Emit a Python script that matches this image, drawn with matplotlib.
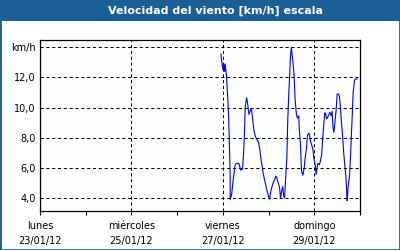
import matplotlib
matplotlib.use("Agg")
import matplotlib.pyplot as plt
from matplotlib.patches import Rectangle

# time in days since lunes 23/01/12 00:00, wind speed in km/h
days = [3.96, 3.97, 4.00, 4.02, 4.04, 4.05, 4.08, 4.10, 4.12, 4.14, 4.16, 4.16,
        4.19, 4.22, 4.24, 4.27, 4.30, 4.34, 4.36, 4.39, 4.43, 4.45, 4.47, 4.49,
        4.52, 4.54, 4.57, 4.59, 4.62, 4.64, 4.66, 4.68, 4.71, 4.74, 4.78, 4.81,
        4.83, 4.86, 4.88, 4.92, 4.96, 4.99, 5.02, 5.05, 5.08, 5.10, 5.13, 5.16,
        5.18, 5.21, 5.24, 5.26, 5.29, 5.31, 5.33, 5.35, 5.37, 5.40, 5.42, 5.44,
        5.46, 5.48, 5.50, 5.51, 5.53, 5.56, 5.58, 5.61, 5.63, 5.66, 5.67, 5.70,
        5.72, 5.75, 5.78, 5.80, 5.83, 5.85, 5.88, 5.90, 5.92, 5.95, 5.97, 5.99,
        6.02, 6.04, 6.06, 6.08, 6.11, 6.13, 6.16, 6.18, 6.21, 6.23, 6.25, 6.27,
        6.30, 6.32, 6.34, 6.37, 6.39, 6.41, 6.43, 6.45, 6.48, 6.50, 6.53, 6.55,
        6.57, 6.59, 6.62, 6.64, 6.67, 6.69, 6.71, 6.72, 6.74, 6.77, 6.79, 6.81,
        6.83, 6.85, 6.88, 6.90, 6.94]
speed = [13.55, 13.2, 12.55, 12.9, 12.4, 12.9, 12.1, 11.0, 9.9, 8.0, 5.4, 3.9,
         4.2, 5.0, 5.55, 6.2, 6.3, 6.3, 6.2, 5.85, 5.9, 6.8, 8.1, 10.1,
         10.65, 10.3, 9.55, 9.7, 9.95, 9.55, 9.0, 8.45, 8.1, 7.9, 7.7, 7.2,
         6.65, 6.1, 5.65, 5.1, 4.55, 4.2, 3.9, 4.45, 4.8, 5.0, 5.2, 5.45,
         5.35, 5.0, 4.7, 4.0, 4.5, 4.75, 4.1, 4.0, 5.1, 6.65, 9.2, 10.75,
         12.1, 13.45, 14.0, 13.65, 13.1, 12.1, 10.55, 9.55, 9.3, 9.45, 8.65, 7.45,
         5.8, 5.5, 6.0, 6.65, 7.3, 8.15, 8.3, 8.1, 7.75, 7.45, 7.2, 6.65,
         6.2, 5.55, 6.0, 6.3, 6.2, 6.4, 6.85, 7.75, 9.0, 9.65, 9.55, 9.25,
         9.4, 9.55, 9.7, 9.45, 9.75, 8.65, 8.35, 9.0, 9.9, 10.9, 10.9, 10.75,
         10.1, 9.2, 8.1, 7.1, 6.1, 5.45, 4.35, 3.8, 4.75, 5.45, 6.55, 8.1,
         9.45, 11.0, 11.8, 11.9, 11.9]

major_days = [0, 2, 4, 6]
minor_days = [1, 3, 5, 7]
major_labels = ["lunes\n23/01/12", "miércoles\n25/01/12",
                "viernes\n27/01/12", "domingo\n29/01/12"]
y_ticks = [4, 6, 8, 10, 12, 14]
y_labels = ["4,0", "6,0", "8,0", "10,0", "12,0", "km/h"]

title = "Velocidad del viento [km/h] escala"
frame_blue = "#1c5e96"

fig = plt.figure(figsize=(4, 2.5), dpi=100)
fig.patch.set_facecolor("white")

# frame and title bar
fig.patches.append(Rectangle((0, 0), 1, 1, transform=fig.transFigure,
                             fill=False, edgecolor=frame_blue, linewidth=2.0))
fig.patches.append(Rectangle((0, 1 - 21 / 250), 1, 21 / 250,
                             transform=fig.transFigure,
                             facecolor=frame_blue, edgecolor="none"))
fig.text(215 / 400, 1 - 11 / 250, title, color="white", fontsize=8,
         fontweight="bold", ha="center", va="center")

ax = fig.add_axes([40 / 400, 1 - 211 / 250, 320 / 400, 171 / 250])
ax.set_facecolor("#fcfffc")
ax.plot(days, speed, color="#0000ff", linewidth=0.8)

ax.set_xlim(0, 7)
ax.set_ylim(3.13, 14.49)
ax.set_xticks(major_days)
ax.set_xticklabels(major_labels, fontsize=7, linespacing=1.6)
ax.set_xticks(minor_days, minor=True)
ax.set_yticks(y_ticks)
ax.set_yticklabels(y_labels, fontsize=7)

ax.tick_params(axis="x", which="both", direction="out", length=3, width=0.8, pad=4)
ax.tick_params(axis="y", length=0, pad=3)
ax.grid(True, which="major", color="black", linestyle=(0, (3, 2.6)), linewidth=0.75)
for s in ax.spines.values():
    s.set_linewidth(0.9)

fig.savefig("out.png", dpi=100)
